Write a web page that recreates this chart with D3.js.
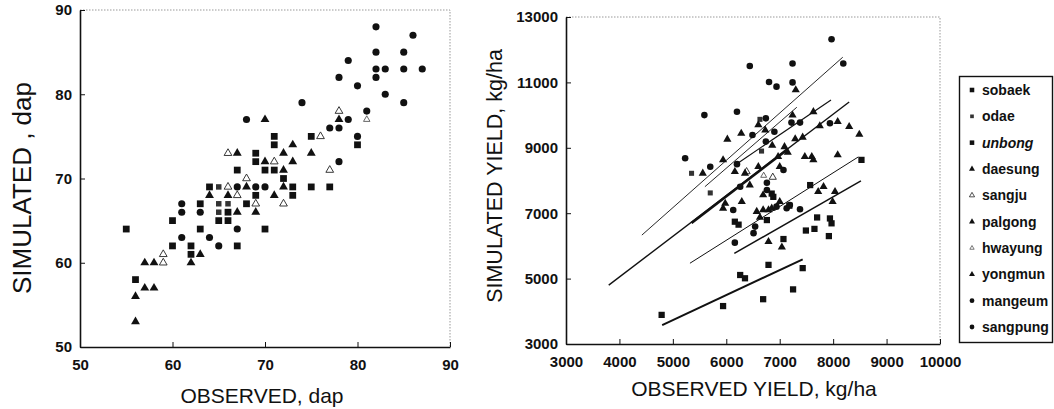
<!DOCTYPE html>
<html lang="en">
<head>
  <meta charset="UTF-8">
  <title>Simulated vs observed</title>
  <script src="https://cdn.jsdelivr.net/npm/d3@7"></script>
  <style>
    body { margin: 0; background: #fff; }
    svg text { font-family: "Liberation Sans", Arial, sans-serif; fill: #111; }
  </style>
</head>
<body>
  <div id="chart"></div>

  <script>
    const varieties = ["sobaek", "odae", "unbong", "daesung", "sangju", "palgong", "hwayung", "yongmun", "mangeum", "sangpung"];

    // days to maturity [observed, simulated]
    const dapSobaek = [[55,64],[56,58],[60,65],[60,62],[62,62],[62,61],[63,67],[63,64],[64,69]];
    const dapOdae = [[65,69],[65,67],[66,67],[65,66]];
    const dapUnbong = [[66,66],[65,65],[66,65],[67,62],[68,67],[69,68],[69,73],[69,72],[70,71],[71,71],[71,75],[71,74],[72,70],[73,69],[73,68],[70,64],[75,69],[77,69],[80,74],[67,71],[75,75]];
    const dapDaesung = [[56,53],[56,56],[57,57],[58,57],[57,60],[58,60],[62,60],[63,61],[64,68],[66,68]];
    const dapSangju = [[59,61],[59,60],[66,69],[67,68],[68,70],[69,67],[71,72],[72,67],[66,73],[76,75],[77,71],[78,78]];
    const dapPalgong = [[67,66],[69,66],[68,69],[71,68],[72,69],[72,71],[72,73],[73,72],[73,74],[75,73],[70,72]];
    const dapHwayung = [[81,77]];
    const dapYongmun = [[67,73],[70,77],[78,77]];
    const dapMangeum = [[82,88],[86,87],[82,85],[85,85],[79,84],[82,83],[83,83],[85,83],[87,83],[78,82],[82,82],[80,81],[83,80],[74,79],[85,79],[81,78],[79,77],[77,76],[78,76],[80,75]];
    const dapSangpung = [[61,67],[61,66],[63,66],[61,63],[64,63],[65,62],[67,64],[67,69],[69,69],[70,69],[68,77],[78,72]];

    // grain yield kg/ha [observed, simulated]
    const yldSobaek = [[4790,3890],[5940,4160],[6260,5110],[6350,5010],[6690,4370],[6790,5420],[7250,4670],[7430,5320]];
    const yldOdae = [[5350,8220],[5700,7620],[6660,8900],[6630,9870]];
    const yldUnbong = [[6160,6740],[6230,6650],[6760,6790],[6850,7600],[6880,7500],[7070,6210],[7180,7230],[7490,6470],[7650,6520],[7700,6870],[7940,6840],[7970,6690],[7920,6300],[7570,7860],[8530,8630]];
    const yldDaesung = [[7300,10770],[6020,9260],[6280,9440],[5560,8220],[5940,8630],[6600,9700],[6730,9540],[6860,9070],[7240,10000],[7630,10100],[7290,9270],[7430,9320],[7750,9670],[8085,9800],[8300,9645],[8490,9410]];
    const yldSangju = [[6380,8270],[6870,8100]];
    const yldPalgong = [[7090,9030],[7150,8860],[6970,8730],[7470,8730],[7600,8730],[7630,8630],[8085,8780],[7820,7810],[8035,7660],[7720,7660],[7990,7350],[7000,8420],[6600,8420],[6350,8220],[6160,8270]];
    const yldHwayung = [[6700,8150]];
    const yldYongmun = [[6440,7860],[6690,7560],[5980,7300],[5940,7150],[6290,7350],[6570,7050],[6690,7100],[6790,7100],[6850,7150],[7000,7350],[6630,6870],[6790,6130],[7040,5960]];
    const yldMangeum = [[7970,12320],[8190,11580],[6440,11500],[7240,11580],[6800,11010],[6940,10870],[7240,11000],[5590,10000],[6200,10100],[5230,8680],[6490,9390],[6900,9490],[7220,9770],[7380,9770],[7940,9750]];
    const yldSangpung = [[5700,8420],[6200,8500],[6740,9190],[6740,9900],[6260,7810],[6760,7930],[6760,7710],[6130,7100],[6540,6590],[6510,6390],[6160,6100],[6940,7200],[7130,7150],[7190,7250],[7380,7120],[7070,8320]];

    // regression lines, end points in data units
    const regX1 = [4420, 5600, 6160, 3800, 5350, 5320, 6150, 4800];
    const regY1 = [6330, 7810, 8470, 4800, 6700, 5470, 5770, 3580];
    const regX2 = [8180, 7320, 7960, 8300, 7150, 8470, 8520, 7430];
    const regY2 = [11770, 10240, 10460, 10400, 8960, 8720, 7990, 5590];

    const dapTicks = [50, 60, 70, 80, 90];
    const yldXTicks = [3000, 4000, 5000, 6000, 7000, 8000, 9000, 10000];
    const yldYTicks = [3000, 5000, 7000, 9000, 11000, 13000];

    const dapSets = [dapSobaek, dapOdae, dapUnbong, dapDaesung, dapSangju, dapPalgong, dapHwayung, dapYongmun, dapMangeum, dapSangpung];
    const yldSets = [yldSobaek, yldOdae, yldUnbong, yldDaesung, yldSangju, yldPalgong, yldHwayung, yldYongmun, yldMangeum, yldSangpung];

    const shapeOf = {
      sobaek: "square", odae: "notch", unbong: "square",
      daesung: "tri", sangju: "openTri", palgong: "tri", hwayung: "smallOpenTri", yongmun: "tri",
      mangeum: "circle", sangpung: "circle"
    };
    const markStyle = {
      square:       { type: d3.symbolSquare,   size: 46, fill: "#111", stroke: "none" },
      notch:        { type: d3.symbolSquare,   size: 30, fill: "#333", stroke: "none" },
      tri:          { type: d3.symbolTriangle, size: 34, fill: "#111", stroke: "none" },
      openTri:      { type: d3.symbolTriangle, size: 26, fill: "#fff", stroke: "#222" },
      smallOpenTri: { type: d3.symbolTriangle, size: 18, fill: "#fff", stroke: "#555" },
      circle:       { type: d3.symbolCircle,   size: 40, fill: "#111", stroke: "none" }
    };
    const lineWidths = [0.9, 0.9, 1.2, 1.4, 2.6, 1, 1.5, 2];

    const svg = d3.select('#chart')
      .append('svg')
        .attr('width', 1054)
        .attr('height', 409);

    function drawMarks(g, data, shape, x, y, scale) {
      const st = markStyle[shape];
      g.selectAll(null)
        .data(data)
        .join('path')
          .attr('transform', d => `translate(${x(d[0])},${y(d[1])})`)
          .attr('d', d3.symbol().type(st.type).size(st.size * scale))
          .attr('fill', st.fill)
          .attr('stroke', st.stroke)
          .attr('stroke-width', 0.9);
    }

    function frame(x, y, xTicks, yTicks, xPad, fmt) {
      const g = svg.append('g');
      const [x0, x1] = x.range();
      const [y0, y1] = y.range();
      // dotted top / right edges
      g.append('path')
        .attr('d', `M${x0},${y1}H${x1}V${y0}`)
        .attr('fill', 'none')
        .attr('stroke', '#999')
        .attr('stroke-width', 1)
        .attr('stroke-dasharray', '1.5,1.5');

      const ax = g.append('g')
        .attr('transform', `translate(0,${y0})`)
        .call(d3.axisBottom(x).tickValues(xTicks).tickSize(-5).tickSizeOuter(0).tickPadding(xPad).tickFormat(fmt));
      const ay = g.append('g')
        .attr('transform', `translate(${x0},0)`)
        .call(d3.axisLeft(y).tickValues(yTicks).tickSize(-5).tickSizeOuter(0).tickPadding(8).tickFormat(fmt));
      [ax, ay].forEach(a => {
        a.select('.domain').attr('stroke', '#111').attr('stroke-width', 1.6);
        a.selectAll('.tick line').attr('stroke', '#111');
        a.selectAll('.tick text')
          .style('font-family', '"Liberation Sans", Arial, sans-serif')
          .style('font-size', '15px')
          .style('font-weight', 'bold')
          .attr('fill', '#111');
      });
      return g;
    }

    // ---- left panel: days to maturity
    const xDap = d3.scaleLinear().domain([50, 90]).range([80, 450]);
    const yDap = d3.scaleLinear().domain([50, 90]).range([347, 10]);
    const gL = frame(xDap, yDap, dapTicks, dapTicks, 12, d3.format('d'));
    varieties.forEach((v, i) => drawMarks(gL, dapSets[i], shapeOf[v], xDap, yDap, 1));

    gL.append('text')
      .attr('x', 262).attr('y', 403)
      .attr('text-anchor', 'middle')
      .style('font-size', '21px')
      .text('OBSERVED, dap');
    gL.append('text')
      .attr('transform', 'translate(31,188) rotate(-90)')
      .attr('text-anchor', 'middle')
      .style('font-size', '26px')
      .text('SIMULATED , dap');

    // ---- right panel: grain yield
    const xYld = d3.scaleLinear().domain([3000, 10000]).range([566, 940]);
    const yYld = d3.scaleLinear().domain([3000, 13000]).range([344, 17]);
    const gR = frame(xYld, yYld, yldXTicks, yldYTicks, 12, d3.format('d'));

    gR.selectAll('line.reg')
      .data(regX1.map((v, i) => i))
      .join('line')
        .attr('class', 'reg')
        .attr('x1', i => xYld(regX1[i]))
        .attr('y1', i => yYld(regY1[i]))
        .attr('x2', i => xYld(regX2[i]))
        .attr('y2', i => yYld(regY2[i]))
        .attr('stroke', '#111')
        .attr('stroke-width', i => lineWidths[i]);

    varieties.forEach((v, i) => drawMarks(gR, yldSets[i], shapeOf[v], xYld, yYld, 0.85));

    gR.append('text')
      .attr('x', 754).attr('y', 396)
      .attr('text-anchor', 'middle')
      .style('font-size', '21px')
      .text('OBSERVED YIELD, kg/ha');
    gR.append('text')
      .attr('transform', 'translate(502,176) rotate(-90)')
      .attr('text-anchor', 'middle')
      .style('font-size', '21.5px')
      .text('SIMULATED YIELD, kg/ha');

    // ---- legend
    const lg = svg.append('g');
    lg.append('rect')
      .attr('x', 959.5).attr('y', 76.5)
      .attr('width', 93).attr('height', 266)
      .attr('fill', '#fff')
      .attr('stroke', '#111')
      .attr('stroke-width', 1.4);
    const ly = d3.scalePoint().domain(varieties).range([90, 327]);
    varieties.forEach(v => {
      const st = markStyle[shapeOf[v]];
      lg.append('path')
        .attr('transform', `translate(972,${ly(v)})`)
        .attr('d', d3.symbol().type(st.type).size(st.size * 0.45))
        .attr('fill', st.fill)
        .attr('stroke', st.stroke)
        .attr('stroke-width', 0.8);
      lg.append('text')
        .attr('x', 982).attr('y', ly(v))
        .attr('dy', '0.35em')
        .style('font-size', '14px')
        .style('font-weight', 'bold')
        .style('font-style', v === 'unbong' ? 'italic' : 'normal')
        .text(v);
    });
  </script>
</body>
</html>
